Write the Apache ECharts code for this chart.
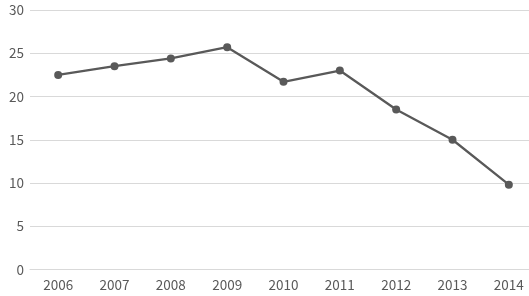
<!DOCTYPE html>
<html>
<head>
<meta charset="utf-8">
<script src="https://cdn.jsdelivr.net/npm/echarts@6/dist/echarts.min.js"></script>
<style>
  html, body { margin: 0; padding: 0; background: #fff; overflow: hidden; }
  #chart { width: 537px; height: 296px; }
</style>
</head>
<body>
<div id="chart"></div>
<script>
// 年份与数值
const years = ['2006', '2007', '2008', '2009', '2010', '2011', '2012', '2013', '2014'];
const values = [22.5, 23.5, 24.4, 25.7, 21.7, 23.0, 18.5, 15.0, 9.8];
const yTicks = { min: 0, max: 30, interval: 5 };

// 图表比画面宽一点，右侧被裁掉（与原图一致）
const chart = echarts.init(document.getElementById('chart'));
chart.setOption({
  animation: false,
  textStyle: { fontFamily: '"Noto Sans CJK JP", "DejaVu Sans", sans-serif' },
  grid: { left: 30, right: 0, top: 10, bottom: 26.5, containLabel: false },
  xAxis: {
    type: 'category',
    data: years,
    axisLine: { lineStyle: { color: '#d9d9d9', width: 1 } },
    axisTick: { show: false },
    axisLabel: { color: '#595959', fontSize: 13.5, margin: 9 }
  },
  yAxis: {
    type: 'value',
    min: yTicks.min,
    max: yTicks.max,
    interval: yTicks.interval,
    axisLine: { show: false },
    axisTick: { show: false },
    axisLabel: { color: '#595959', fontSize: 13.5, margin: 6 },
    splitLine: { lineStyle: { color: '#d9d9d9', width: 1 } }
  },
  series: [{
    type: 'line',
    data: values,
    symbol: 'circle',
    symbolSize: 8,
    lineStyle: { color: '#595959', width: 2.25 },
    itemStyle: { color: '#595959' }
  }]
});
</script>
</body>
</html>
